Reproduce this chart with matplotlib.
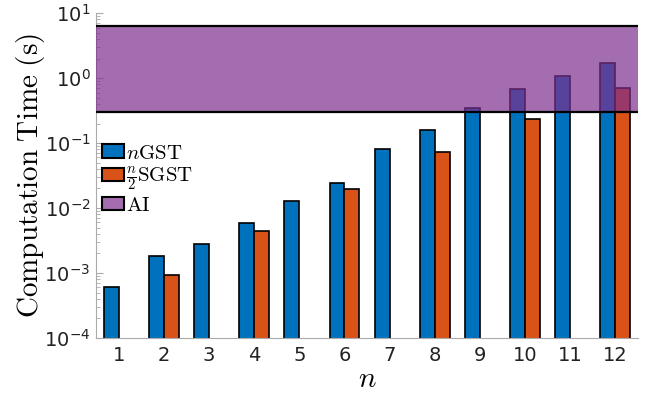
import numpy as np
import matplotlib
matplotlib.use("Agg")
import matplotlib.pyplot as plt
from matplotlib.patches import Patch

n_values = [1, 2, 3, 4, 5, 6, 7, 8, 9, 10, 11, 12]
ngst_times = [6.1e-4, 1.83e-3, 2.8e-3, 5.9e-3, 0.0128, 0.0243, 0.081, 0.158, 0.347, 0.68, 1.07, 1.7]
sgst_times = [np.nan, 9.3e-4, np.nan, 4.4e-3, np.nan, 0.0196, np.nan, 0.073, np.nan, 0.234, np.nan, 0.70]
ai_range = [0.30, 6.3]
series_labels = [r'$n\mathrm{GST}$', r'$\frac{n}{2}\mathrm{SGST}$', r'$\mathrm{AI}$']

blue = '#0072BD'
orange = '#D95319'
purple = '#7E2F8E'

fig = plt.figure(figsize=(6.51, 3.99), dpi=100)
ax = fig.add_axes([0.1475, 0.153, 0.8325, 0.814])

x = np.array(n_values, dtype=float)
w = 0.33
b1 = ax.bar(x - w / 2, ngst_times, width=w, color=blue, edgecolor='black', linewidth=1.2, zorder=2)
b2 = ax.bar(x + w / 2, sgst_times, width=w, color=orange, edgecolor='black', linewidth=1.2, zorder=2)

ax.set_yscale('log')
ax.set_ylim(1e-4, 1e1)
ax.set_xlim(0.5, 12.5)

ax.axhspan(ai_range[0], ai_range[1], facecolor=purple, alpha=0.7, edgecolor='none', zorder=3)
ax.axhline(ai_range[0], color='black', lw=1.6, zorder=4)
ax.axhline(ai_range[1], color='black', lw=1.6, zorder=4)

ax.set_xticks(n_values)
ax.set_xticklabels([str(v) for v in n_values])
for s in ['top', 'right']:
    ax.spines[s].set_visible(False)
for s in ['left', 'bottom']:
    ax.spines[s].set_color('#aaaaaa')
    ax.spines[s].set_linewidth(0.8)
ax.tick_params(axis='both', which='both', direction='in', colors='#aaaaaa', labelcolor='#222222', labelsize=14)
ax.tick_params(axis='x', length=0, pad=6)
ax.tick_params(axis='y', which='major', length=5, pad=4)
ax.tick_params(axis='y', which='minor', length=3)

ax.set_ylabel(r'$\mathrm{Computation\ Time\ (s)}$', fontsize=21, math_fontfamily='cm', labelpad=-2)
ax.set_xlabel(r'$n$', fontsize=21, math_fontfamily='cm', labelpad=0)

handles = [Patch(facecolor=blue, edgecolor='black', lw=1.5),
           Patch(facecolor=orange, edgecolor='black', lw=1.5),
           Patch(facecolor='#A56DB0', edgecolor='black', lw=1.5)]
leg = ax.legend(handles, series_labels, loc='upper left', bbox_to_anchor=(-0.005, 0.627),
                frameon=False, fontsize=15, handlelength=1.05, handleheight=0.65,
                handletextpad=0.1, labelspacing=0.1, borderaxespad=0.2, borderpad=0.2)
for t in leg.get_texts():
    t.set_math_fontfamily('cm')

fig.savefig('out.png', dpi=100)
